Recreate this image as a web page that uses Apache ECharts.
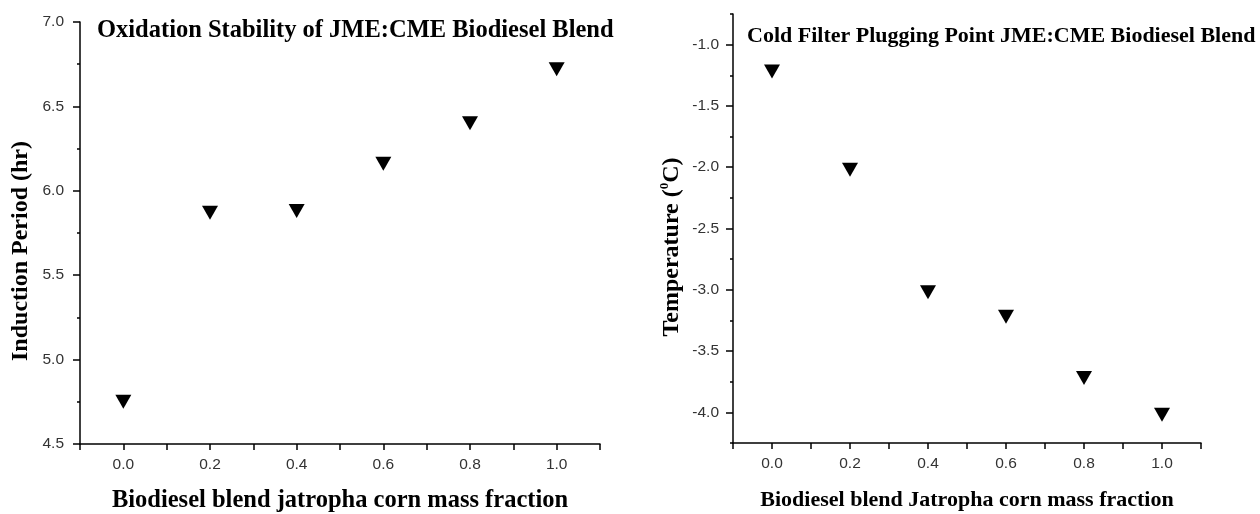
<!DOCTYPE html>
<html>
<head>
<meta charset="utf-8">
<style>html,body{margin:0;padding:0;background:#fff;}#c{width:1260px;height:514px;}</style>
<script src="https://cdn.jsdelivr.net/npm/echarts@6/dist/echarts.min.js"></script>
</head>
<body>
<div id="c"></div>
<script>
const fractions = [0.0, 0.2, 0.4, 0.6, 0.8, 1.0];
const inductionPeriod = [4.75, 5.87, 5.88, 6.16, 6.40, 6.72];
const cfppTemperature = [-1.22, -2.02, -3.02, -3.22, -3.72, -4.02];
const xLabelValues = [0.0, 0.2, 0.4, 0.6, 0.8, 1.0];
const xTickValues = [-0.1, 0.0, 0.1, 0.2, 0.3, 0.4, 0.5, 0.6, 0.7, 0.8, 0.9, 1.0, 1.1];
const rightMajorTicks = [-4.0, -3.5, -3.0, -2.5, -2.0, -1.5, -1.0];
const rightMinorTicks = [-4.25, -3.75, -3.25, -2.75, -2.25, -1.75, -1.25, -0.75];

const chart = echarts.init(document.getElementById('c'));
const serif = '"Liberation Serif", "Times New Roman", serif';
const sans = '"Liberation Sans", Arial, sans-serif';
const axisLine = {show: true, onZero: false, lineStyle: {color: '#000', width: 1.5}};
const labelStyle = {color: '#333', fontFamily: sans, fontSize: 15.5};

function xAxis(gridIndex, name, size, gap) {
  return {
    type: 'value', gridIndex, min: -0.1, max: 1.1,
    name, nameLocation: 'middle', nameGap: gap,
    nameTextStyle: {color: '#000', fontFamily: serif, fontWeight: 'bold', fontSize: size},
    axisLine,
    axisTick: {show: true, length: 6, lineStyle: {color: '#000', width: 1.5}, customValues: xTickValues},
    axisLabel: Object.assign({margin: 13, customValues: xLabelValues, formatter: v => v.toFixed(1)}, labelStyle),
    splitLine: {show: false}
  };
}

const option = {
  backgroundColor: '#fff',
  animation: false,
  title: [
    {text: 'Oxidation Stability of JME:CME Biodiesel Blend', left: 97, top: 18, padding: 0,
     textStyle: {fontFamily: serif, fontWeight: 'bold', fontSize: 24.5, color: '#000'}},
    {text: 'Cold Filter Plugging Point JME:CME Biodiesel Blend', left: 747, top: 25, padding: 0,
     textStyle: {fontFamily: serif, fontWeight: 'bold', fontSize: 22, color: '#000'}}
  ],
  graphic: [
    {type: 'text', x: 21, y: 251, rotation: Math.PI / 2,
     style: {text: 'Induction Period (hr)', fill: '#000', font: 'bold 24px ' + serif,
             align: 'center', verticalAlign: 'middle'}},
    {type: 'text', x: 672, y: 247, rotation: Math.PI / 2,
     style: {text: '{n|Temperature (}{s|0}{n|C)}', align: 'center', verticalAlign: 'middle',
             rich: {
               n: {fontFamily: serif, fontWeight: 'bold', fontSize: 24, fill: '#000'},
               s: {fontFamily: serif, fontWeight: 'bold', fontSize: 13, fill: '#000', padding: [0, 0, 14, 0]}
             }}}
  ],
  grid: [
    {left: 80, top: 22, width: 520, height: 422, outerBoundsMode: 'none', containLabel: false},
    {left: 733, top: 14, width: 468, height: 429, outerBoundsMode: 'none', containLabel: false}
  ],
  xAxis: [
    xAxis(0, 'Biodiesel blend jatropha corn mass fraction', 24.5, 44),
    xAxis(1, 'Biodiesel blend Jatropha corn mass fraction', 22, 46)
  ],
  yAxis: [
    {
      type: 'value', gridIndex: 0, min: 4.5, max: 7.0, interval: 0.5, position: 'left',
      axisLine,
      axisTick: {show: true, length: 7, lineStyle: {color: '#000', width: 1.5}},
      minorTick: {show: true, splitNumber: 2, length: 3, lineStyle: {color: '#000', width: 1.5}},
      axisLabel: Object.assign({margin: 16, formatter: v => v.toFixed(1)}, labelStyle),
      splitLine: {show: false}
    },
    {
      type: 'value', gridIndex: 1, min: -4.25, max: -0.75, position: 'left',
      axisLine,
      axisTick: {show: true, length: 7, lineStyle: {color: '#000', width: 1.5}, customValues: rightMajorTicks},
      axisLabel: Object.assign({margin: 14, customValues: rightMajorTicks, formatter: v => v.toFixed(1)}, labelStyle),
      splitLine: {show: false}
    },
    {
      type: 'value', gridIndex: 1, min: -4.25, max: -0.75, position: 'left', offset: 0,
      axisLine: {show: false, onZero: false},
      axisTick: {show: true, length: 3, lineStyle: {color: '#000', width: 1.5}, customValues: rightMinorTicks},
      axisLabel: {show: false},
      splitLine: {show: false}
    }
  ],
  series: [
    {
      type: 'scatter', xAxisIndex: 0, yAxisIndex: 0,
      data: fractions.map((x, i) => [x, inductionPeriod[i]]),
      symbol: 'triangle', symbolRotate: 180, symbolSize: [16, 14],
      itemStyle: {color: '#000', opacity: 1}
    },
    {
      type: 'scatter', xAxisIndex: 1, yAxisIndex: 1,
      data: fractions.map((x, i) => [x, cfppTemperature[i]]),
      symbol: 'triangle', symbolRotate: 180, symbolSize: [16, 14],
      itemStyle: {color: '#000', opacity: 1}
    }
  ]
};
chart.setOption(option);
</script>
</body>
</html>
